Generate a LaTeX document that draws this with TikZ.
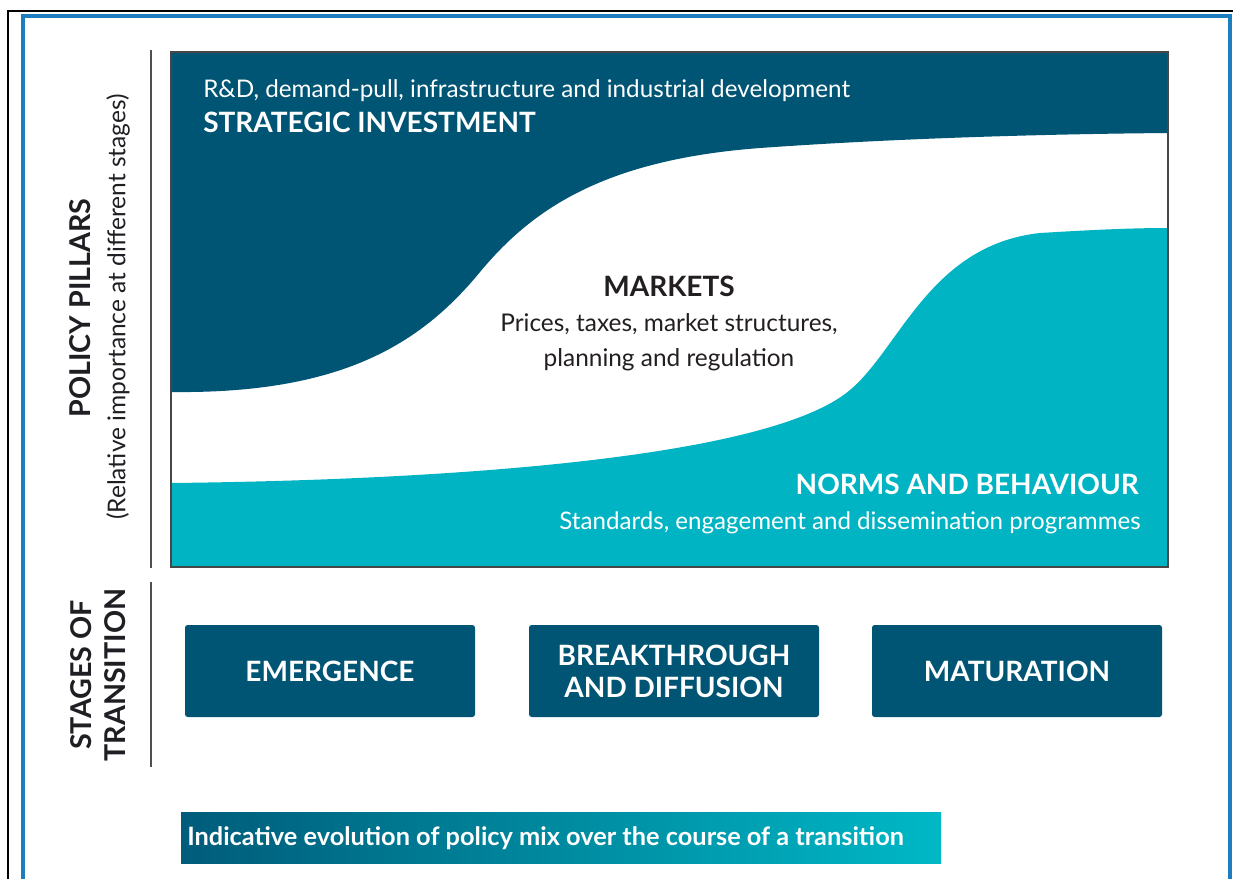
\documentclass[tikz,border=0pt]{standalone}
\usepackage{fontspec}
\setmainfont{Lato}
\usepackage{tikz}

\begin{document}
\begin{tikzpicture}[x=0.75pt,y=0.75pt,yscale=-1,xscale=1,
  stagebox/.style={fill={rgb, 255:red, 0; green, 84; blue, 116 }, rounded corners=2pt, minimum width=217.5pt, minimum height=69pt, inner sep=0pt, text=white, align=center, font=\bfseries\fontsize{21}{24}\selectfont},
  sidelabel/.style={rotate=90, inner sep=0pt, text={rgb, 255:red, 30; green, 30; blue, 35 }},
  axisline/.style={draw={rgb, 255:red, 80; green, 80; blue, 80 }, line width=1.5pt}]
\useasboundingbox (0,0) rectangle (1233,879);
\clip (0,0) rectangle (1233,879);

%Shape: Frames
\draw [line width=2pt] (8,900) -- (8,11) -- (1250,11) ;
\draw [color={rgb, 255:red, 28; green, 126; blue, 190 }, line width=2.5pt] (23,900) -- (23,16) -- (1230,16) -- (1230,900) ;

%Shape: Rectangle (pillar area)
\fill [white] (171,52) rectangle (1168,567) ;
%Curve Lines: strategic investment
\fill [fill={rgb, 255:red, 0; green, 84; blue, 116 }] (171,52) -- (1168,52) -- (1168,133)
  .. controls (1050,134) and (900,138) .. (760,148)
  .. controls (600,160) and (530,212) .. (480,272)
  .. controls (420,345) and (340,394) .. (171,392) -- cycle ;
%Curve Lines: norms and behaviour
\fill [fill={rgb, 255:red, 0; green, 180; blue, 195 }] (171,567) -- (171,483)
  .. controls (450,480) and (770,458) .. (850,390)
  .. controls (900,348) and (930,245) .. (1040,233)
  .. controls (1090,230) and (1130,228) .. (1168,228) -- (1168,567) -- cycle ;
\draw [color={rgb, 255:red, 70; green, 70; blue, 70 }, line width=1.2pt] (171,52) rectangle (1168,567) ;

%Text Node
\node [anchor=base west, inner sep=0pt, text=white, font=\fontsize{18.2}{20}\selectfont] (invdesc) at (203,97) {R\&D, demand-pull, infrastructure and industrial development};
\node [anchor=base west, inner sep=0pt, text=white, font=\bfseries\fontsize{21}{24}\selectfont] (invtitle) at (203,132) {STRATEGIC INVESTMENT};
\node [anchor=base, inner sep=0pt, text={rgb, 255:red, 35; green, 31; blue, 32 }, font=\bfseries\fontsize{21}{24}\selectfont] (mkttitle) at (669,296) {MARKETS};
\node [anchor=base, inner sep=0pt, text={rgb, 255:red, 35; green, 31; blue, 32 }, font=\fontsize{18.3}{26}\selectfont, align=center] (mktdesc) at (669,366) {Prices, taxes, market structures,\\planning and regulation};
\node [anchor=base east, inner sep=0pt, text=white, font=\bfseries\fontsize{21}{24}\selectfont] (normtitle) at (1139,494) {NORMS AND BEHAVIOUR};
\node [anchor=base east, inner sep=0pt, text=white, font=\fontsize{18.1}{20}\selectfont] (normdesc) at (1141,529) {Standards, engagement and dissemination programmes};

%Straight Lines
\draw [axisline] (151,50) -- (151,568) ;
\draw [axisline] (151,582) -- (151,767) ;

%Text Node (side labels)
\node [sidelabel, font=\bfseries\fontsize{21.5}{24}\selectfont] (pillars) at (80,308) {POLICY PILLARS};
\node [sidelabel, font=\fontsize{18.4}{20}\selectfont] (importance) at (118,307) {(Relative importance at different stages)};
\node [sidelabel, font=\bfseries\fontsize{21.5}{26}\selectfont, align=center] (stages) at (98,675) {STAGES OF\\TRANSITION};

%Shape: Rectangle (stages)
\node [stagebox] (emergence) at (330,671) {EMERGENCE};
\node [stagebox] (breakthrough) at (674,671) {BREAKTHROUGH\\AND DIFFUSION};
\node [stagebox] (maturation) at (1017,671) {MATURATION};

%Shape: Rectangle (banner)
\shade [left color={rgb, 255:red, 0; green, 92; blue, 122 }, right color={rgb, 255:red, 0; green, 184; blue, 198 }] (181,812) rectangle (941,863) ;
\node [anchor=west, inner sep=0pt, text=white, font=\bfseries\fontsize{19}{22}\selectfont] (evolution) at (187,838) {Indicative evolution of policy mix over the course of a transition};

\end{tikzpicture}
\end{document}
